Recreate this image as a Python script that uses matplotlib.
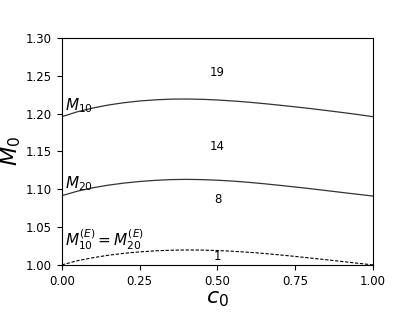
import numpy as np
import matplotlib
matplotlib.use('Agg')
from matplotlib import pyplot as plt

# values
c0 = [0.0, 0.05, 0.1, 0.15, 0.2, 0.25, 0.3, 0.35, 0.4, 0.45, 0.5,
      0.55, 0.6, 0.65, 0.7, 0.75, 0.8, 0.85, 0.9, 0.95, 1.0]
M10 = [1.196, 1.2025, 1.2075, 1.2115, 1.2145, 1.2168, 1.2183, 1.2192, 1.2194, 1.2190, 1.2181,
       1.2168, 1.2152, 1.2133, 1.2112, 1.2090, 1.2067, 1.2042, 1.2016, 1.1989, 1.196]
M20 = [1.0915, 1.0975, 1.1020, 1.1055, 1.1082, 1.1103, 1.1118, 1.1128, 1.1131, 1.1128, 1.1120,
       1.1108, 1.1092, 1.1073, 1.1052, 1.1030, 1.1007, 1.0983, 1.0958, 1.0934, 1.091]
ME = [1.000, 1.0055, 1.0095, 1.0128, 1.0153, 1.0172, 1.0186, 1.0194, 1.0197, 1.0196, 1.0190,
      1.0180, 1.0167, 1.0151, 1.0132, 1.0112, 1.0090, 1.0068, 1.0045, 1.0022, 1.000]

region_labels = ['19', '14', '8', '1']
region_y = [1.255, 1.156, 1.086, 1.0105]

fig = plt.figure(figsize=(4.15, 3.12), dpi=100)
ax = fig.add_axes([0.149, 0.151, 0.750, 0.727])

ax.plot(c0, M10, '-', color='#333333', linewidth=0.9)
ax.plot(c0, M20, '-', color='#333333', linewidth=0.9)
ax.plot(c0, ME, '--', color='black', linewidth=0.8, dashes=(3, 1.5))

ax.text(0.01, 1.204, r'$M_{10}$', fontsize=11)
ax.text(0.01, 1.1015, r'$M_{20}$', fontsize=11)
ax.text(0.01, 1.025, r'$M^{(E)}_{10} = M^{(E)}_{20}$', fontsize=11)
for lab, yy in zip(region_labels, region_y):
    ax.text(0.5, yy, lab, fontsize=8.5, ha='center', va='center')

ax.set_xlim(0, 1)
ax.set_ylim(1.0, 1.3)
ax.set_xticks([0.0, 0.25, 0.5, 0.75, 1.0])
ax.set_yticks([1.0, 1.05, 1.1, 1.15, 1.2, 1.25, 1.3])
ax.tick_params(labelsize=8.5, length=3.5)
ax.set_xlabel(r'$c_0$', fontsize=16, labelpad=1)
ax.set_ylabel(r'$M_0$', fontsize=16, labelpad=2)

plt.savefig('out.png', dpi=100)
